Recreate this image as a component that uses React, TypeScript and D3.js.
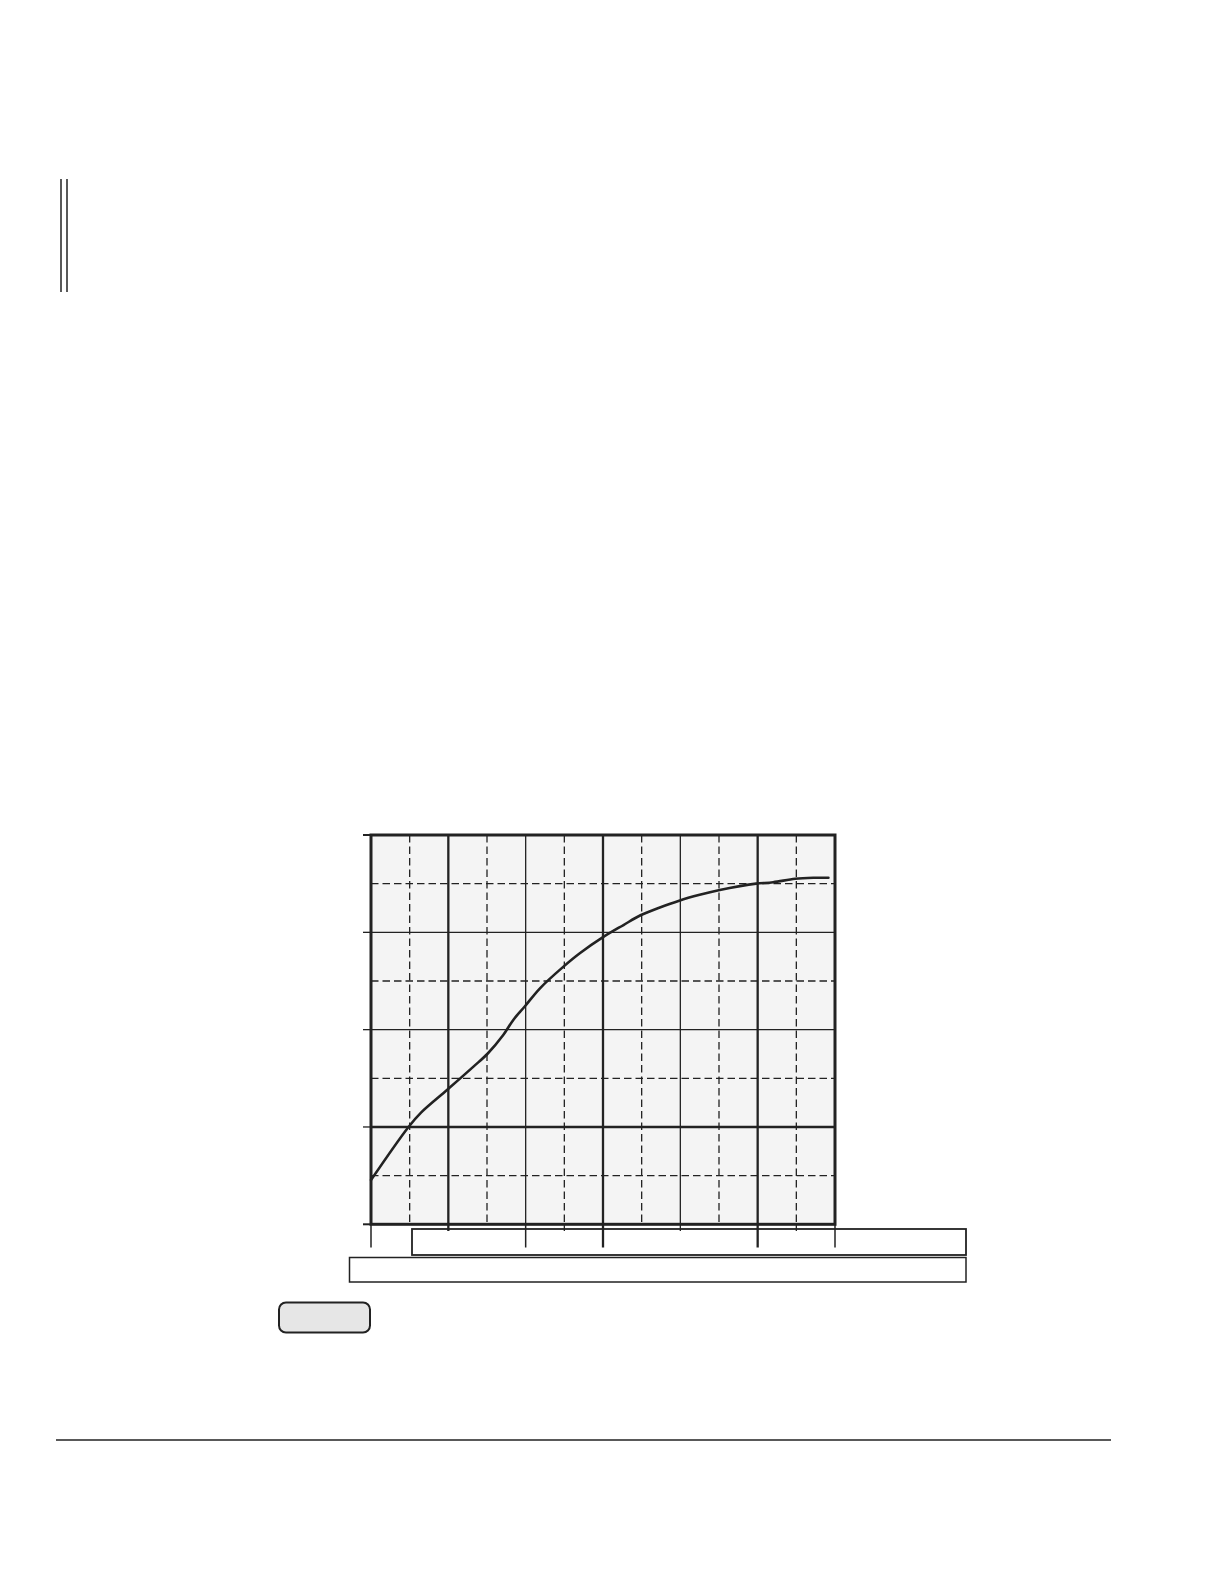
import { useEffect, useRef } from "react"
import * as d3 from "d3"

// grid units: 12 columns across, 8 rows up
const colKinds = ["border", "dash", "thick", "dash", "thin", "dash", "thick", "dash", "thin", "dash", "thick", "dash", "border"]
const rowKinds = ["border", "dash", "thick", "dash", "thin", "dash", "thin", "dash", "border"]
const longTicks = [0, 4, 6, 10, 12]
const shortTicks = [2, 5, 8, 11]
const leftTicks = [0, 2, 4, 6, 8]

// curve
const curveX = [0, 0.97, 1.3, 1.98, 2.65, 3.02, 3.42, 3.68, 3.97, 4.37, 4.97, 5.4, 6.0, 6.53, 6.97, 7.47, 7.97, 8.5, 9.02, 9.54, 9.96, 10.4, 10.97, 11.44, 11.83]
const curveY = [0.91, 2.0, 2.3, 2.77, 3.24, 3.51, 3.89, 4.2, 4.47, 4.85, 5.29, 5.57, 5.9, 6.15, 6.35, 6.51, 6.65, 6.77, 6.87, 6.95, 7.0, 7.03, 7.1, 7.12, 7.12]

const W = 1224
const H = 1584
const INK = "#222"

const App = () => {
  const svgRef = useRef<SVGSVGElement | null>(null)

  useEffect(() => {
    const svg = d3.select(svgRef.current)
    svg.selectAll("*").remove()

    const plot = { left: 371, right: 835, top: 835, bottom: 1224.3 }
    const x = d3.scaleLinear().domain([0, 12]).range([plot.left, plot.right])
    const y = d3.scaleLinear().domain([0, 8]).range([plot.bottom, plot.top])

    // double bar top left
    ;[61, 67].forEach((lx) => {
      svg.append("line")
        .attr("x1", lx).attr("x2", lx)
        .attr("y1", 179).attr("y2", 292)
        .attr("stroke", INK).attr("stroke-width", 1.5)
    })

    // footer rule
    svg.append("line")
      .attr("x1", 56).attr("x2", 1111)
      .attr("y1", 1440).attr("y2", 1440)
      .attr("stroke", INK).attr("stroke-width", 1.3)

    // plot background
    svg.append("rect")
      .attr("x", plot.left).attr("y", plot.top)
      .attr("width", plot.right - plot.left)
      .attr("height", plot.bottom - plot.top)
      .attr("fill", "#f4f4f4")

    const widthOf = (k: string) => (k === "thick" ? 2.3 : k === "border" ? 3 : 1.3)

    // vertical grid
    colKinds.forEach((k, i) => {
      if (k === "border") return
      svg.append("line")
        .attr("x1", x(i)).attr("x2", x(i))
        .attr("y1", plot.top).attr("y2", plot.bottom)
        .attr("stroke", INK)
        .attr("stroke-width", widthOf(k))
        .attr("stroke-dasharray", k === "dash" ? "7.5,4" : null)
    })

    // horizontal grid
    rowKinds.forEach((k, i) => {
      if (k === "border") return
      svg.append("line")
        .attr("x1", plot.left).attr("x2", plot.right)
        .attr("y1", y(i)).attr("y2", y(i))
        .attr("stroke", INK)
        .attr("stroke-width", widthOf(k))
        .attr("stroke-dasharray", k === "dash" ? "7.5,4" : null)
    })

    // left ticks
    leftTicks.forEach((r) => {
      svg.append("line")
        .attr("x1", plot.left - 8).attr("x2", plot.left)
        .attr("y1", y(r)).attr("y2", y(r))
        .attr("stroke", INK).attr("stroke-width", r === 0 || r === 8 ? 2 : 1.3)
    })

    // boxes under the axis
    svg.append("rect")
      .attr("x", 349.5).attr("y", 1257.5)
      .attr("width", 966 - 349.5).attr("height", 1282 - 1257.5)
      .attr("fill", "white").attr("stroke", INK).attr("stroke-width", 1.5)
    svg.append("rect")
      .attr("x", 412).attr("y", 1229)
      .attr("width", 966 - 412).attr("height", 1255 - 1229)
      .attr("fill", "white").attr("stroke", INK).attr("stroke-width", 1.8)

    // bottom ticks
    longTicks.forEach((c) => {
      svg.append("line")
        .attr("x1", x(c)).attr("x2", x(c))
        .attr("y1", plot.bottom).attr("y2", 1247.5)
        .attr("stroke", INK).attr("stroke-width", c === 6 || c === 10 ? 2.3 : 1.5)
    })
    shortTicks.forEach((c) => {
      svg.append("line")
        .attr("x1", x(c)).attr("x2", x(c))
        .attr("y1", plot.bottom).attr("y2", 1231)
        .attr("stroke", INK).attr("stroke-width", c === 2 ? 2.3 : 1.3)
        .attr("stroke-dasharray", colKinds[c] === "dash" ? "7.5,4" : null)
    })

    // plot border
    svg.append("rect")
      .attr("x", plot.left).attr("y", plot.top)
      .attr("width", plot.right - plot.left)
      .attr("height", plot.bottom - plot.top)
      .attr("fill", "none").attr("stroke", INK).attr("stroke-width", 3)

    // curve
    const pts = curveX.map((cx, i) => [cx, curveY[i]] as [number, number])
    const line = d3.line<[number, number]>()
      .x((d) => x(d[0]))
      .y((d) => y(d[1]))
      .curve(d3.curveCatmullRom.alpha(0.5))
    svg.append("path")
      .attr("d", line(pts))
      .attr("fill", "none")
      .attr("stroke", INK)
      .attr("stroke-width", 2.6)
      .attr("stroke-linecap", "round")
      .attr("stroke-linejoin", "round")

    // rounded button
    svg.append("rect")
      .attr("x", 279).attr("y", 1302.5)
      .attr("width", 91).attr("height", 30)
      .attr("rx", 7)
      .attr("fill", "#e6e6e6").attr("stroke", INK).attr("stroke-width", 2)
  }, [])

  return (
    <svg
      ref={svgRef}
      width={W}
      height={H}
      style={{ position: "absolute", left: 0, top: 0, background: "white" }}
    />
  )
}

export default App
